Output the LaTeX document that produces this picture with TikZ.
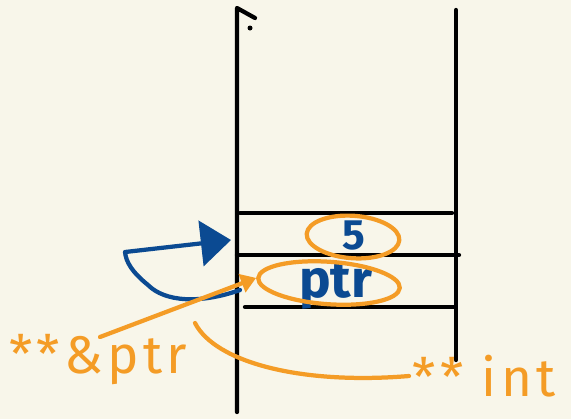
\documentclass[tikz,border=0pt]{standalone}
\usepackage{fontspec}
\setmainfont{Fira Sans}
\usetikzlibrary{shapes.geometric,arrows.meta}
\definecolor{paper}{HTML}{F8F6EA}
\definecolor{ink}{HTML}{0B4A92}
\definecolor{marker}{HTML}{F49C26}

\begin{document}
\begin{tikzpicture}[x=0.0265cm,y=-0.0265cm,line width=3.2pt,line cap=round,line join=round,
  ring/.style={draw=marker,ellipse,inner sep=0pt},
  tag/.style={text=marker,font=\fontsize{40}{40}\selectfont\addfontfeatures{LetterSpace=8},inner sep=1pt}]
\fill[paper] (0,0) rectangle (571,419);
\useasboundingbox (0,0) rectangle (571,419);
% stack frame
\draw (255,18)--(237,8)--(237,412);
\fill (250,28) circle (2.5);
\draw (456,10)--(456,360);
\draw (240,213)--(452,213);
\draw (237,255)--(459,255);
\draw (245,307)--(455,307);
% cells
\node[text=ink,font=\fontsize{32}{32}\selectfont\bfseries,inner sep=1pt] (val) at (354,236) {5};
\node[text=ink,font=\fontsize{40}{40}\selectfont\bfseries,inner sep=1pt] (ptr) at (336,286) {ptr};
\node[ring,minimum width=70pt,minimum height=32pt,rotate=-4] (valring) at (353,237) {};
\node[ring,minimum width=107pt,minimum height=32pt,rotate=-4] (ptrring) at (329,283) {};
% labels
\node[tag] (lblA) at (98,360) {**\&ptr};
\node[tag] (lblB) at (484,376) {** int};
\coordinate (ptrcell) at (240,290);
\coordinate (bend) at (125,252);
\coordinate (valcell) at (231,240);
\coordinate (curl) at (195,323);
% connectors
\draw[ink,-{Triangle[length=8mm,width=12mm]}] (ptrcell) .. controls (200,304) and (165,302) .. (148,285)
  .. controls (132,272) and (126,262) .. (bend) -- (valcell);
\draw[marker,-{Triangle[length=4mm,width=5mm]}] (100,337) -- (ptrring.west);
\draw[marker] (curl) .. controls (215,362) and (300,385) .. (lblB.west);
\end{tikzpicture}
\end{document}
